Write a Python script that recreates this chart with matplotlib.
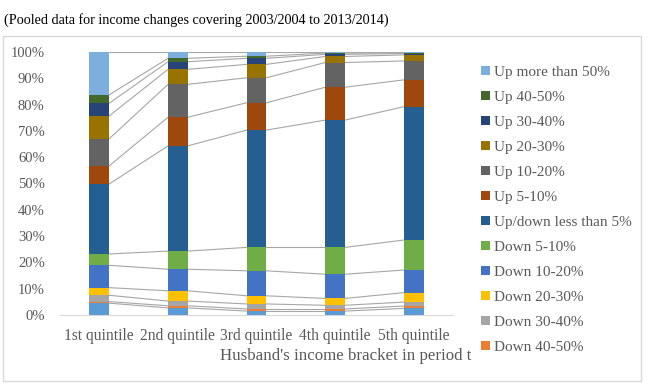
import numpy as np
import matplotlib
matplotlib.use("Agg")
import matplotlib.pyplot as plt
from matplotlib.patches import Rectangle, Patch

categories = ["1st quintile", "2nd quintile", "3rd quintile", "4th quintile", "5th quintile"]

# stacked from the bottom up, values in percent
series_names = [
    "Down more than 50%", "Down 40-50%", "Down 30-40%", "Down 20-30%",
    "Down 10-20%", "Down 5-10%", "Up/down less than 5%", "Up 5-10%",
    "Up 10-20%", "Up 20-30%", "Up 30-40%", "Up 40-50%", "Up more than 50%",
]
down_over_50 = [4.5, 2.7, 1.5, 1.5, 2.5]
down_40_50 = [0.6, 0.8, 0.8, 0.8, 0.9]
down_30_40 = [2.4, 1.8, 1.9, 1.4, 1.5]
down_20_30 = [2.9, 3.9, 3.1, 2.6, 3.6]
down_10_20 = [8.5, 8.2, 9.5, 9.2, 8.6]
down_5_10 = [4.3, 6.9, 8.9, 10.2, 11.4]
less_than_5 = [26.6, 40.0, 44.6, 48.4, 50.7]
up_5_10 = [6.9, 10.9, 10.4, 12.5, 10.2]
up_10_20 = [10.3, 12.5, 9.5, 9.4, 7.2]
up_20_30 = [8.7, 5.7, 5.1, 2.3, 2.3]
up_30_40 = [4.8, 2.9, 2.3, 0.8, 0.5]
up_40_50 = [3.2, 1.3, 0.8, 0.5, 0.3]
up_over_50 = [16.3, 2.4, 1.6, 0.4, 0.3]

series_values = [
    down_over_50, down_40_50, down_30_40, down_20_30, down_10_20, down_5_10,
    less_than_5, up_5_10, up_10_20, up_20_30, up_30_40, up_40_50, up_over_50,
]
colors = [
    "#5B9BD5", "#ED7D31", "#A5A5A5", "#FFC000", "#4472C4", "#70AD47",
    "#255E91", "#9E480E", "#636363", "#997300", "#264478", "#43682B", "#7CAFDD",
]

plt.rcParams["font.family"] = ["Liberation Serif", "DejaVu Serif"]
text_gray = "#595959"

fig = plt.figure(figsize=(6.51, 3.84), dpi=100)
ax = fig.add_axes([60 / 651, 1 - 315 / 384, 393 / 651, 263 / 384])

x = np.arange(len(categories))
width = 0.25
bottom = np.zeros(len(categories))
handles = []
for name, vals, col in zip(series_names, series_values, colors):
    vals = np.array(vals, dtype=float)
    ax.bar(x, vals, width, bottom=bottom, color=col, zorder=3)
    top = bottom + vals
    # series lines between neighbouring bars
    for i in range(len(categories) - 1):
        ax.plot([x[i] + width / 2, x[i + 1] - width / 2], [top[i], top[i + 1]],
                color="#A6A6A6", lw=0.8, zorder=2)
    bottom = top
    handles.append(Patch(facecolor=col, label=name))

ax.set_xlim(-0.5, len(categories) - 0.5)
ax.set_ylim(0, 100)
ax.set_yticks(np.arange(0, 101, 10))
ax.set_yticklabels([f"{v}%" for v in range(0, 101, 10)])
ax.set_xticks(x)
ax.set_xticklabels(categories)
ax.tick_params(axis="both", length=0, colors=text_gray)
ax.tick_params(axis="y", pad=11, labelsize=10.5)
ax.tick_params(axis="x", pad=9, labelsize=11.2)
for s in ["top", "right", "left"]:
    ax.spines[s].set_visible(False)
ax.spines["bottom"].set_color("#D9D9D9")
ax.patch.set_visible(False)

fig.text(471 / 651, 1 - 356 / 384, "Husband's income bracket in period t",
         ha="right", va="center", fontsize=12.2, color=text_gray)

# legend, top entry first, last one cut off as in the source
leg_handles = handles[::-1][:12]
fig.legend(handles=leg_handles, loc="upper left", bbox_to_anchor=(475 / 651, 1 - 60 / 384),
           frameon=False, fontsize=11, labelcolor=text_gray, handlelength=0.55,
           handleheight=0.55, handletextpad=0.3, labelspacing=0.785, borderaxespad=0)

fig.text(4 / 651, 1 - 20 / 384,
         "(Pooled data for income changes covering 2003/2004 to 2013/2014)",
         ha="left", va="center", fontsize=10.2, color="black")

fig.patches.append(Rectangle((3 / 651, 1 - 381 / 384), 638 / 651, 345 / 384,
                             transform=fig.transFigure, fill=False,
                             edgecolor="#D9D9D9", lw=1))

fig.savefig("out.png", dpi=100)
